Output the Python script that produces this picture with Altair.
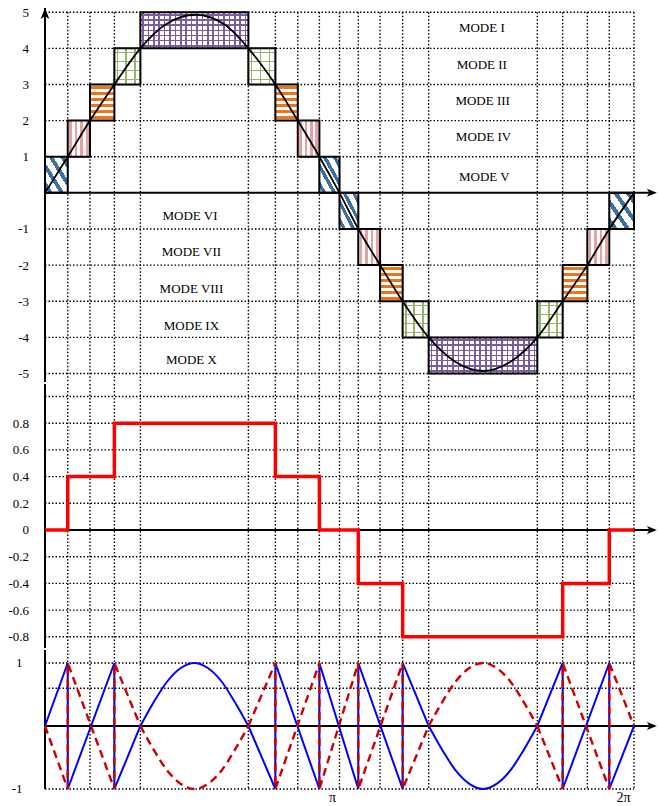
import altair as alt
import pandas as pd

FONT = "Liberation Serif"

# ---------------- data (angle in degrees: 180 = π, 360 = 2π) ----------------
grid_x = [13.9, 27.5, 42.4, 58.3, 124.3, 140.8, 154.5, 167.7, 180.0,
          191.5, 204.8, 218.6, 234.5, 300.9, 316.4, 331.5, 344.9, 360.0]
tick_x = [180, 360]

# panel 1 : stepped levels and reference sine
level_ticks = [5, 4, 3, 2, 1, -1, -2, -3, -4, -5]
sine_x = [0, 13.9, 27.5, 42.4, 58.3, 74.4, 92.0, 110.0, 124.3, 140.8, 154.5, 167.7, 180.0,
          191.5, 204.8, 218.6, 234.5, 251.0, 268.0, 285.0, 300.9, 316.4, 331.5, 344.9, 360.0]
sine_y = [0, 1, 2, 3, 4, 4.68, 4.93, 4.65, 4, 3, 2, 1, 0,
          -1, -2, -3, -4, -4.68, -4.93, -4.66, -4, -3, -2, -1, 0]
box_x0 = [0, 13.9, 27.5, 42.4, 58.3, 124.3, 140.8, 154.5, 167.7,
          180.0, 191.5, 204.8, 218.6, 234.5, 300.9, 316.4, 331.5, 344.9]
box_x1 = [13.9, 27.5, 42.4, 58.3, 124.3, 140.8, 154.5, 167.7, 180.0,
          191.5, 204.8, 218.6, 234.5, 300.9, 316.4, 331.5, 344.9, 360.0]
box_lo = [0, 1, 2, 3, 4, 3, 2, 1, 0, 0, -1, -2, -3, -4, -3, -2, -1, 0]
box_hi = [1, 2, 3, 4, 5, 4, 3, 2, 1, -1, -2, -3, -4, -5, -4, -3, -2, -1]
box_kind = ["diag", "vline", "hline", "grid", "fine", "grid", "hline", "vline", "diag",
            "diag", "vline", "hline", "grid", "fine", "grid", "hline", "vline", "diag"]
modes = ["MODE I", "MODE II", "MODE III", "MODE IV", "MODE V",
         "MODE VI", "MODE VII", "MODE VIII", "MODE IX", "MODE X"]
mode_x = [267, 267, 267.5, 268, 268.5, 88.6, 89.5, 89.5, 89.5, 89.5]
mode_y = [4.55, 3.55, 2.55, 1.55, 0.45, -0.65, -1.63, -2.67, -3.68, -4.63]

# panel 2 : modulation reference steps
ref_x = [0, 13.9, 42.4, 140.8, 167.7, 191.5, 218.6, 316.4, 344.9, 360.0]
ref_y = [0, 0.4, 0.8, 0.4, 0, -0.4, -0.8, -0.4, 0, 0]
ref_ticks = [0.8, 0.6, 0.4, 0.2, 0, -0.2, -0.4, -0.6, -0.8]
ref_grid = [1.0, 0.8, 0.6, 0.4, 0.2, -0.2, -0.4, -0.6, -0.8]

# panel 3 : carriers
car_ticks = [1, -1]
car_grid = [1, 0.6, -1]
blue_lin_x = [0, 13.9, 13.9, 42.4, 42.4, 58.3,
              124.3, 140.8, 140.8, 167.7, 167.7, 191.5, 191.5, 218.6, 218.6, 234.5,
              300.9, 316.4, 316.4, 344.9, 344.9, 360.0]
blue_lin_y = [0, 1, -1, 1, -1, 0,
              0, -1, 1, -1, 1, -1, 1, -1, 1, 0,
              0, 1, -1, 1, -1, 0]
blue_lin_seg = [1] * 6 + [2] * 10 + [3] * 6
blue_arc_x = [58.3, 66.5, 74.8, 83.0, 91.3, 99.5, 107.8, 116.0, 124.3,
              234.5, 242.8, 251.1, 259.4, 267.7, 276.0, 284.3, 292.6, 300.9]
blue_arc_y = [0, 0.38, 0.71, 0.92, 1, 0.92, 0.71, 0.38, 0,
              0, -0.38, -0.71, -0.92, -1, -0.92, -0.71, -0.38, 0]
blue_arc_seg = [1] * 9 + [2] * 9
red_lin_y = [0, -1, 1, -1, 1, 0,
             0, 1, -1, 1, -1, 1, -1, 1, -1, 0,
             0, -1, 1, -1, 1, 0]
red_arc_y = [0, -0.38, -0.71, -0.92, -1, -0.92, -0.71, -0.38, 0,
             0, 0.38, 0.71, 0.92, 1, 0.92, 0.71, 0.38, 0]

# ---------------- layout ----------------
W = 589
H1, H2, H3 = 382, 264, 140
Y1 = [-5.235, 5.338]
Y2 = [-0.884, 1.0936]
Y3 = [-1.016, 1.206]
X_TIP = 374.0

RIGHT_ARROW = "M0,0 L-2,-0.8 L-1.5,0 L-2,0.8 Z"
UP_ARROW = "M0,0 L0.8,2 L0,1.5 L-0.8,2 Z"
one = pd.DataFrame({"_": [0]})

LBL_INT = "(datum.value < 0 ? '-' : '') + abs(datum.value)"
LBL_DEC = "datum.value == 0 ? '0' : (datum.value < 0 ? '-' : '') + format(abs(datum.value), '.1f')"


def y_axis(ticks, expr, pad):
    return alt.Axis(values=ticks, labelExpr=expr, grid=False, ticks=False, domain=False,
                    labelPadding=pad, labelFont=FONT, labelFontSize=13, labelColor="black",
                    minExtent=45, maxExtent=45)


X_AXIS3 = alt.Axis(values=tick_x, labelExpr="datum.value == 180 ? 'π' : '2π'", grid=False,
                   ticks=False, domain=False, labelPadding=0, labelAlign="right",
                   labelOffset=-4, labelFont=FONT, labelFontSize=14, labelColor="black")


class Panel:
    def __init__(self, ydom, yaxis, xaxis):
        self.ys = alt.Scale(domain=ydom, nice=False, zero=False)
        self.xs = alt.Scale(domain=[0, 360], nice=False, zero=False)
        self.yaxis = yaxis
        self.xaxis = xaxis

    def xf(self, f):
        return alt.X(f, scale=self.xs, axis=self.xaxis, title=None)

    def xd(self, v):
        return alt.XDatum(v, scale=self.xs, axis=self.xaxis, title=None)

    def yf(self, f):
        return alt.Y(f, scale=self.ys, axis=self.yaxis, title=None)

    def yd(self, v):
        return alt.YDatum(v, scale=self.ys, axis=self.yaxis, title=None)


def hgrid(p, vals):
    return alt.Chart(pd.DataFrame({"v": vals})).mark_rule(
        color="black", strokeWidth=1.4, strokeDash=[1.5, 2]).encode(
        x=p.xd(0), x2=alt.X2Datum(360), y=p.yf("v:Q"))


def vgrid(p, top, bottom):
    return alt.Chart(pd.DataFrame({"gx": grid_x})).mark_rule(
        color="black", strokeWidth=1.4, strokeDash=[1.5, 2]).encode(
        x=p.xf("gx:Q"), y=p.yd(top), y2=alt.Y2Datum(bottom))


def axes(p, ytop, ybottom, arrow_up=None):
    layers = [
        alt.Chart(one).mark_rule(color="black", strokeWidth=2).encode(
            x=p.xd(0), x2=alt.X2Datum(X_TIP - 4), y=p.yd(0)),
        alt.Chart(one).mark_point(shape=RIGHT_ARROW, size=100, filled=True, fill="black",
                                  strokeWidth=0, opacity=1).encode(
            x=p.xd(X_TIP), y=p.yd(0)),
        alt.Chart(one).mark_rule(color="black", strokeWidth=2).encode(
            x=p.xd(0), y=p.yd(ytop), y2=alt.Y2Datum(ybottom)),
    ]
    if arrow_up is not None:
        layers.append(
            alt.Chart(one).mark_point(shape=UP_ARROW, size=120, filled=True, fill="black",
                                      strokeWidth=0, opacity=1).encode(
                x=p.xd(0), y=p.yd(arrow_up)))
    return layers


def stripes(color, bg, n, duty, x1, y1, x2, y2, phase=0.0):
    stops = [{"offset": 0, "color": bg}]
    for k in range(n):
        a = round((k + phase) / n, 4)
        b = round((k + phase + duty) / n, 4)
        stops += [{"offset": a, "color": bg}, {"offset": a, "color": color},
                  {"offset": min(b, 1), "color": color}, {"offset": min(b, 1), "color": bg}]
    stops.append({"offset": 1, "color": bg})
    return {"gradient": "linear", "x1": x1, "y1": y1, "x2": x2, "y2": y2, "stops": stops}


CLEAR = "rgba(255,255,255,0)"
BLUE_H = "#3f6ea0"
PINK_H = "#e2a2a2"
ORANGE_H = "#ef7418"
GREEN_H = "#93b565"
PURPLE_H = "#7c5ca0"

P1 = Panel(Y1, y_axis(level_ticks, LBL_INT, 16.5), None)
P2 = Panel(Y2, y_axis(ref_ticks, LBL_DEC, 16.5), None)
P3 = Panel(Y3, y_axis(car_ticks, LBL_INT, 23), X_AXIS3)

boxes = pd.DataFrame({"x0": box_x0, "x1": box_x1, "lo": box_lo, "hi": box_hi, "kind": box_kind})


def box_fill(kind, grad):
    return alt.Chart(boxes).transform_filter(alt.datum.kind == kind).mark_rect(
        fill=grad, strokeWidth=0).encode(
        x=P1.xf("x0:Q"), x2="x1:Q", y=P1.yf("lo:Q"), y2="hi:Q")


box_layers = [
    box_fill("diag", stripes(BLUE_H, "#ffffff", 4, 0.4, 0, 1, 1, 0, phase=0.3)),
    box_fill("vline", stripes(PINK_H, "#ffffff", 4, 0.5, 0, 0, 1, 0, phase=0.25)),
    box_fill("hline", stripes(ORANGE_H, "#ffffff", 6, 0.5, 0, 0, 0, 1, phase=0.25)),
    box_fill("grid", stripes(GREEN_H, "#ffffff", 3, 0.2, 0, 0, 1, 0, phase=0.25)),
    box_fill("grid", stripes(GREEN_H, CLEAR, 4, 0.14, 0, 0, 0, 1, phase=0.4)),
    box_fill("fine", stripes(PURPLE_H, "#ffffff", 20, 0.3, 0, 0, 1, 0, phase=0.35)),
    box_fill("fine", stripes(PURPLE_H, CLEAR, 7, 0.3, 0, 0, 0, 1, phase=0.35)),
    alt.Chart(boxes).mark_rect(fillOpacity=0, stroke="black", strokeWidth=2).encode(
        x=P1.xf("x0:Q"), x2="x1:Q", y=P1.yf("lo:Q"), y2="hi:Q"),
]

sine = alt.Chart(pd.DataFrame({"x": sine_x, "y": sine_y, "i": range(len(sine_x))})).mark_line(
    color="black", strokeWidth=1.8, interpolate="monotone").encode(
    x=P1.xf("x:Q"), y=P1.yf("y:Q"), order="i:Q")

mode_text = alt.Chart(pd.DataFrame({"x": mode_x, "y": mode_y, "t": modes})).mark_text(
    font=FONT, fontSize=13, color="black").encode(
    x=P1.xf("x:Q"), y=P1.yf("y:Q"), text="t:N")

p1 = alt.layer(
    hgrid(P1, level_ticks),
    vgrid(P1, 5, Y1[0]),
    *box_layers,
    *axes(P1, 5.118, Y1[0], arrow_up=5.118),
    sine,
    mode_text,
).properties(width=W, height=H1)

ref = alt.Chart(pd.DataFrame({"x": ref_x, "y": ref_y})).mark_line(
    color="#ff0000", strokeWidth=3.5, interpolate="step-after").encode(
    x=P2.xf("x:Q"), y=P2.yf("y:Q"))

p2 = alt.layer(
    hgrid(P2, ref_grid),
    vgrid(P2, Y2[1], Y2[0]),
    *axes(P2, Y2[1], Y2[0]),
    ref,
).properties(width=W, height=H2)

lin = pd.DataFrame({"x": blue_lin_x, "b": blue_lin_y, "r": red_lin_y, "seg": blue_lin_seg,
                    "i": range(len(blue_lin_x))})
arc = pd.DataFrame({"x": blue_arc_x, "b": blue_arc_y, "r": red_arc_y, "seg": blue_arc_seg,
                    "i": range(len(blue_arc_x))})


def carrier(df, field, color, interp, dash=None):
    kw = dict(color=color, interpolate=interp)
    if dash:
        kw.update(strokeDash=dash, strokeWidth=2.4)
    else:
        kw.update(strokeWidth=2)
    return alt.Chart(df).mark_line(**kw).encode(
        x=P3.xf("x:Q"), y=P3.yf(f"{field}:Q"), detail="seg:N", order="i:Q")


p3 = alt.layer(
    hgrid(P3, car_grid),
    vgrid(P3, Y3[1], Y3[0]),
    *axes(P3, Y3[1], -1),
    carrier(lin, "b", "#0000ff", "linear"),
    carrier(arc, "b", "#0000ff", "monotone"),
    carrier(lin, "r", "#cc0000", "linear", dash=[8, 5]),
    carrier(arc, "r", "#cc0000", "monotone", dash=[8, 5]),
).properties(width=W, height=H3)

chart = alt.vconcat(p1, p2, p3, spacing=0).properties(
    padding=0).configure_view(strokeWidth=0)

chart.save("out.html", embed_options={"renderer": "svg", "actions": False})
